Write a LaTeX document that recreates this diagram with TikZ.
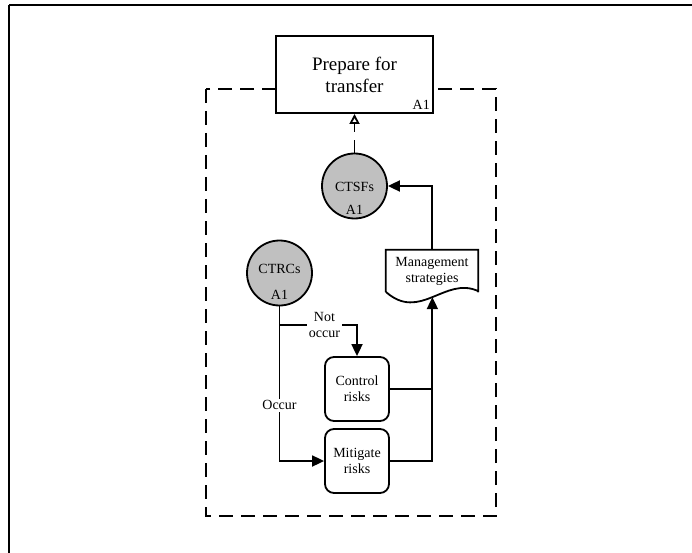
\documentclass[tikz,border=0pt]{standalone}
\usepackage{fontspec}
\setmainfont{Liberation Serif}
\usetikzlibrary{arrows.meta,calc}
\definecolor{disc}{RGB}{192,192,192}
\begin{document}
\begin{tikzpicture}[x=1pt,y=-1pt,
  small/.style={font=\fontsize{14}{16}\selectfont, align=center},
  big/.style={font=\fontsize{19}{22}\selectfont, align=center},
  activity/.style={draw, line width=2pt, fill=white, minimum width=157pt, minimum height=77pt, inner sep=0pt, big},
  event/.style={draw, line width=1.8pt, circle, fill=disc, minimum size=65pt, inner sep=0pt},
  task/.style={draw, line width=1.8pt, rounded corners=9pt, minimum width=64pt, minimum height=64pt, inner sep=0pt, small},
  scopebox/.style={line width=1.8pt, dash pattern=on 14pt off 8pt},
  flow/.style={line width=1.8pt, -{Triangle[length=12pt,width=11pt]}},
  feed/.style={line width=1.8pt, dash pattern=on 13pt off 8pt, -{Triangle[open,length=10pt,width=10pt,fill=white]}},
  tag/.style={small, fill=white, inner sep=1.5pt}]
\useasboundingbox (0,0) rectangle (692,553);

% partial outer frame
\draw[line width=2.2pt] (9,5) -- (692,5);
\draw[line width=1.8pt] (9,5) -- (9,553);

% dashed scope
\draw[scopebox] (206,89) rectangle (496,516);

% parent activity
\node[activity] (prep) at (354.5,74.5) {Prepare for\\transfer};
\node[small, inner sep=0pt, anchor=base east] (prepid) at ([xshift=-4pt,yshift=4pt]prep.south east) {A1};

% events
\node[event] (ctsf) at (354.5,186) {};
\node[small, inner sep=0pt] (ctsft) at ([yshift=-1pt]ctsf.center) {CTSFs};
\node[small, inner sep=0pt] (ctsfa) at ([yshift=-24pt]ctsf.center) {A1};

\node[event] (ctrc) at (279.5,273) {};
\node[small, inner sep=0pt] (ctrct) at ([yshift=4pt]ctrc.center) {CTRCs};
\node[small, inner sep=0pt] (ctrca) at ([yshift=-22pt]ctrc.center) {A1};

% document
\node[small, minimum width=92pt, minimum height=42pt, inner sep=0pt] (mgmt) at (432,271) {Management\\strategies};
\draw[line width=1.8pt] (mgmt.south west) -- (mgmt.north west) -- (mgmt.north east) -- (mgmt.south east)
  -- (478,291) .. controls (445,276) and (420,322) .. (386,292) coordinate[pos=0.5] (wave) -- (mgmt.south west);

% tasks
\node[task] (ctrl) at (357,389) {Control\\risks};
\node[task] (mit) at (357,461) {Mitigate\\risks};

% connectors
\draw[feed] (ctsf.north) -- (prep.south -| ctsf);
\draw[flow] (mgmt.north) |- (ctsf.east);
\draw[line width=1.8pt] (ctrl.east) -- (ctrl.east -| wave);
\draw[flow] (mit.east) -| (wave);
\draw[flow] (ctrc.south) |- node[tag, pos=0.32] {Occur} (mit.west);
\coordinate (split) at (279.5,325);
\draw[flow] (split) -| node[tag, pos=0.29] {Not\\occur} (ctrl.north);
\end{tikzpicture}
\end{document}
